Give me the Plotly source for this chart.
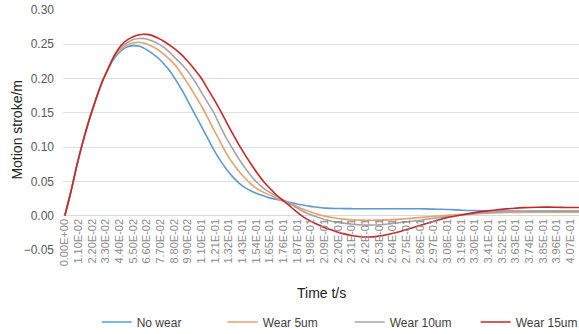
import plotly.graph_objects as go

# time points (s): 0.005 s steps up to 0.25 s, then 0.01 s steps
time_s = [0, 0.005, 0.01, 0.015, 0.02, 0.025, 0.03, 0.035, 0.04, 0.045,
          0.05, 0.055, 0.06, 0.065, 0.07, 0.075, 0.08, 0.085, 0.09, 0.095,
          0.10, 0.105, 0.11, 0.115, 0.12, 0.125, 0.13, 0.135, 0.14, 0.145,
          0.15, 0.155, 0.16, 0.165, 0.17, 0.175, 0.18, 0.185, 0.19, 0.195,
          0.20, 0.205, 0.21, 0.215, 0.22, 0.225, 0.23, 0.235, 0.24, 0.245,
          0.25, 0.26, 0.27, 0.28, 0.29, 0.30, 0.31, 0.32, 0.33, 0.34,
          0.35, 0.36, 0.37, 0.38, 0.39, 0.40, 0.41, 0.414]

no_wear = [0, 0.036, 0.076, 0.111, 0.142, 0.170, 0.195, 0.215, 0.230, 0.240,
           0.246, 0.248, 0.247, 0.243, 0.237, 0.230, 0.221, 0.210, 0.196, 0.181,
           0.164, 0.147, 0.130, 0.113, 0.096, 0.081, 0.068, 0.057, 0.048, 0.041,
           0.036, 0.032, 0.029, 0.026, 0.024, 0.022, 0.020, 0.018, 0.016, 0.0145,
           0.013, 0.012, 0.011, 0.0107, 0.0105, 0.0104, 0.0103, 0.0102, 0.0102, 0.0102,
           0.0102, 0.0102, 0.0102, 0.0101, 0.010, 0.0095, 0.009, 0.008, 0.0075, 0.007,
           0.0068, 0.0067, 0.0066, 0.0066, 0.0066, 0.0065, 0.0065, 0.0065]

wear_5um = [0, 0.036, 0.076, 0.111, 0.142, 0.170, 0.195, 0.215, 0.232, 0.242,
            0.249, 0.252, 0.253, 0.251, 0.247, 0.242, 0.235, 0.227, 0.217, 0.204,
            0.190, 0.175, 0.160, 0.143, 0.125, 0.108, 0.091, 0.077, 0.065, 0.055,
            0.046, 0.039, 0.034, 0.030, 0.026, 0.0225, 0.019, 0.015, 0.011, 0.0075,
            0.004, 0.0013, -0.001, -0.0027, -0.004, -0.005, -0.006, -0.0063, -0.0065, -0.0066,
            -0.0065, -0.006, -0.005, -0.0035, -0.002, -0.0005, 0.001, 0.002, 0.003, 0.0038,
            0.0044, 0.0048, 0.005, 0.005, 0.005, 0.005, 0.005, 0.005]

wear_10um = [0, 0.036, 0.076, 0.111, 0.142, 0.170, 0.195, 0.215, 0.233, 0.245,
             0.252, 0.257, 0.2585, 0.258, 0.255, 0.251, 0.245, 0.237, 0.228, 0.219,
             0.208, 0.195, 0.180, 0.165, 0.150, 0.131, 0.113, 0.098, 0.083, 0.070,
             0.058, 0.048, 0.040, 0.034, 0.029, 0.024, 0.019, 0.0135, 0.008, 0.0035,
             0.000, -0.003, -0.006, -0.008, -0.010, -0.011, -0.012, -0.013, -0.0135, -0.0137,
             -0.0135, -0.012, -0.010, -0.008, -0.0055, -0.003, -0.001, 0.001, 0.003, 0.0045,
             0.0055, 0.0062, 0.0066, 0.0068, 0.007, 0.007, 0.007, 0.007]

wear_15um = [0, 0.036, 0.076, 0.111, 0.142, 0.170, 0.195, 0.215, 0.234, 0.248,
             0.256, 0.261, 0.264, 0.2645, 0.263, 0.259, 0.254, 0.248, 0.241, 0.233,
             0.223, 0.212, 0.200, 0.185, 0.170, 0.154, 0.137, 0.120, 0.104, 0.089,
             0.075, 0.062, 0.050, 0.040, 0.031, 0.023, 0.016, 0.008, 0.001, -0.005,
             -0.010, -0.014, -0.018, -0.021, -0.024, -0.0265, -0.0285, -0.030, -0.031, -0.031,
             -0.0305, -0.0275, -0.023, -0.0175, -0.012, -0.0065, -0.002, 0.0015, 0.0045, 0.007,
             0.009, 0.0105, 0.0118, 0.0124, 0.0125, 0.0122, 0.012, 0.012]

series_names = ["No wear", "Wear 5um", "Wear 10um", "Wear 15um"]
series_colors = ["#5B9BD5", "#E8A06A", "#A5A5A5", "#C62828"]

tick_values = [round(0.011 * i, 3) for i in range(38)]
tick_labels = [f"{v:.2E}" for v in tick_values]

legend_ids = ["legend", "legend2", "legend3", "legend4"]
legend_x = [0.0653, 0.3094, 0.5556, 0.7998]

fig = go.Figure()
for name, vals, col, lid in zip(series_names, [no_wear, wear_5um, wear_10um, wear_15um],
                                series_colors, legend_ids):
    fig.add_trace(go.Scatter(x=time_s, y=vals, mode="lines", name=name, legend=lid,
                             line=dict(color=col, width=1.6, shape="spline", smoothing=0.8)))

font_family = "Liberation Sans, Arial, sans-serif"
legend_common = dict(orientation="h", xanchor="left", y=-0.30, yanchor="middle",
                     font=dict(size=12, color="#404040", family=font_family),
                     bgcolor="rgba(0,0,0,0)", itemwidth=30)

fig.update_layout(
    width=579, height=334,
    margin=dict(l=63, r=0, t=10, b=84, autoexpand=False),
    paper_bgcolor="white", plot_bgcolor="white",
    font=dict(family=font_family, color="#595959"),
    showlegend=True,
    legend=dict(x=legend_x[0], **legend_common),
    legend2=dict(x=legend_x[1], **legend_common),
    legend3=dict(x=legend_x[2], **legend_common),
    legend4=dict(x=legend_x[3], **legend_common),
    xaxis=dict(range=[-0.0015, 0.414], tickmode="array", tickvals=tick_values, ticktext=tick_labels,
               tickangle=-90, tickfont=dict(size=11, color="#8a8a8a"), showgrid=False,
               zeroline=False, showline=False, anchor="free", position=0.05 / 0.35,
               ticks="", automargin=False),
    yaxis=dict(range=[-0.05, 0.30], tickvals=[-0.05, 0, 0.05, 0.10, 0.15, 0.20, 0.25, 0.30],
               tickformat=".2f", tickfont=dict(size=12, color="#595959"),
               showgrid=True, gridcolor="#e0e0e0", gridwidth=1, zeroline=True,
               zerolinecolor="#d9d9d9", zerolinewidth=1, ticklabelstandoff=8, automargin=False),
    annotations=[
        dict(text="Time t/s", xref="paper", yref="paper", x=0.5, y=-0.18, yanchor="middle",
             showarrow=False, font=dict(size=14, color="#222222", family=font_family)),
        dict(text="Motion stroke/m", xref="paper", yref="paper", x=-0.088, y=0.5,
             xanchor="center", yanchor="middle", textangle=-90, showarrow=False,
             font=dict(size=14, color="#222222", family=font_family), xshift=-1),
    ],
)

fig.write_html("out.html", config={"displayModeBar": False},
               post_script="document.body.style.margin='0px';")
